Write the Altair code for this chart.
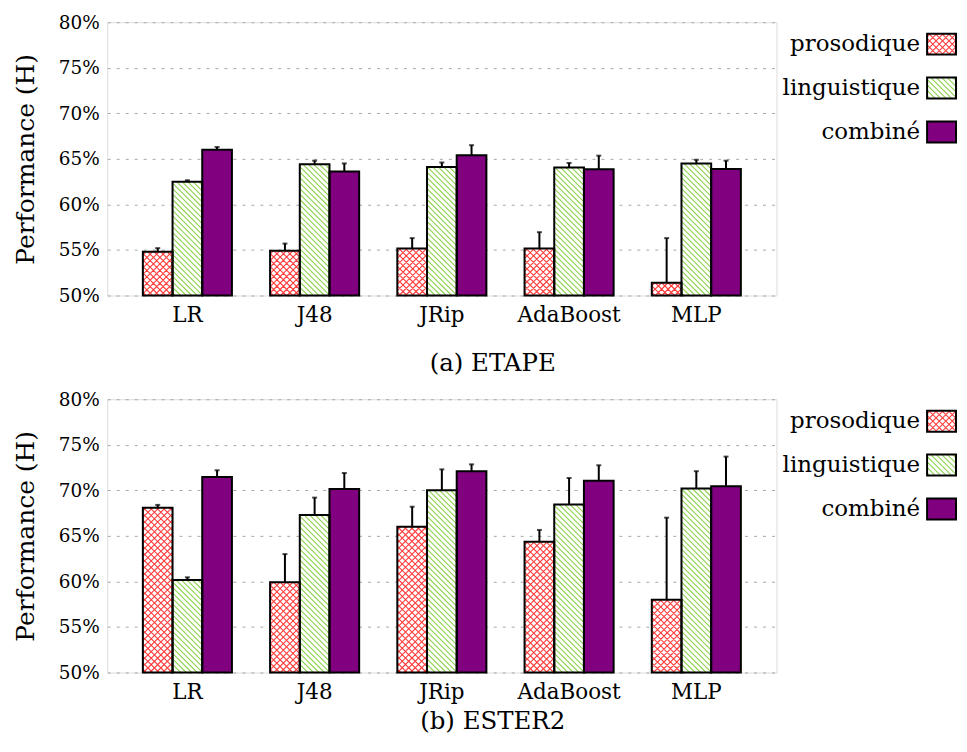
import altair as alt
import pandas as pd

models = ["LR", "J48", "JRip", "AdaBoost", "MLP"]
series = ["prosodique", "linguistique", "combiné"]

etape_pros = [54.8, 54.9, 55.15, 55.15, 51.4]
etape_pros_err = [0.4, 0.8, 1.15, 1.8, 4.9]
etape_ling = [62.5, 64.4, 64.1, 64.05, 64.5]
etape_ling_err = [0.15, 0.4, 0.5, 0.5, 0.4]
etape_comb = [66.0, 63.6, 65.4, 63.85, 63.9]
etape_comb_err = [0.3, 0.9, 1.1, 1.5, 0.9]

ester_pros = [68.1, 59.9, 66.0, 64.35, 58.0]
ester_pros_err = [0.3, 3.1, 2.2, 1.3, 9.0]
ester_ling = [60.15, 67.3, 70.0, 68.45, 70.2]
ester_ling_err = [0.3, 1.9, 2.3, 2.9, 1.9]
ester_comb = [71.45, 70.15, 72.1, 71.05, 70.45]
ester_comb_err = [0.75, 1.75, 0.75, 1.7, 3.25]

y_ticks = [50, 55, 60, 65, 70, 75, 80]

FONT = "DejaVu Serif"
W, H = 671, 274
YMIN, YMAX = 50, 80
P_IN, P_OUT = 0.3, 0.28
BAR_W = W / (len(models) - P_IN + 2 * P_OUT) * (1 - P_IN) / 3
PX = H / (YMAX - YMIN)  # pixels per percentage point
PURPLE = "#800080"
RED = "#ff3c3c"
GREEN = "#8fd14f"
S_RED, S_GREEN, LW = 6.5, 5.5, 1.1
LEG_X0, LEG_X1 = 822, 851
LEG_W = LEG_X1 - LEG_X0


def hatch_path(w, h, spacing, dirs, cy=0.0):
    """Diagonal hatch lines clipped to a w x h box centred horizontally.
    The box spans y in [cy - h, cy] (SVG y axis pointing down)."""
    segs = []
    x_lo, x_hi = -w / 2.0, w / 2.0
    y_top, y_bot = cy - h, cy
    if "back" in dirs:  # x - y = c  (top-left to bottom-right)
        c = x_lo - y_bot + spacing / 2.0
        while c < x_hi - y_top:
            a = max(x_lo, c + y_top)
            b = min(x_hi, c + y_bot)
            if b - a > 0.05:
                segs.append("M%.2f,%.2fL%.2f,%.2f" % (a, a - c, b, b - c))
            c += spacing
    if "fwd" in dirs:  # x + y = c  (bottom-left to top-right)
        c = x_lo + y_top + spacing / 2.0
        while c < x_hi + y_bot:
            a = max(x_lo, c - y_bot)
            b = min(x_hi, c - y_top)
            if b - a > 0.05:
                segs.append("M%.2f,%.2fL%.2f,%.2f" % (a, c - a, b, c - b))
            c += spacing
    return "".join(segs) if segs else "M0,0"


def make_df(p, pe, l, le, c, ce):
    rows = []
    for i, m in enumerate(models):
        for s, v, e in ((series[0], p[i], pe[i]), (series[1], l[i], le[i]), (series[2], c[i], ce[i])):
            if s == series[0]:
                hp = hatch_path(BAR_W, (v - YMIN) * PX, S_RED, ("back", "fwd"))
            elif s == series[1]:
                hp = hatch_path(BAR_W, (v - YMIN) * PX, S_GREEN, ("back",))
            else:
                hp = "M0,0"
            rows.append({"model": m, "series": s, "value": v, "err": e, "top": v + e,
                         "base": YMIN, "hatch": hp})
    return pd.DataFrame(rows)


def panel(df, caption, cap_offset):
    base = alt.Chart(df)
    x = alt.X("model:N", sort=models, title=None,
              scale=alt.Scale(domain=models, paddingInner=P_IN, paddingOuter=P_OUT),
              axis=alt.Axis(labelAngle=0, ticks=False, domain=False, labelFontSize=21.5,
                            labelPadding=9.5, labelColor="black", labelFont=FONT))
    xo = alt.XOffset("series:N", sort=series, scale=alt.Scale(domain=series))
    y = alt.Y("value:Q", scale=alt.Scale(domain=[YMIN, YMAX], nice=False, zero=False),
              axis=alt.Axis(values=y_ticks, labelExpr="datum.value + '%'", title="Performance (H)",
                            grid=True, gridDash=[3, 6], gridColor="#a8a8a8", gridWidth=1,
                            domain=False, ticks=False, labelFontSize=18.5, labelPadding=8,
                            labelColor="black", labelFont=FONT, titleFont=FONT,
                            titleFontSize=25, titleFontWeight="normal", titleColor="black",
                            titleAngle=270, titleX=-73.7, titleY=H / 2, titleAlign="center",
                            titleBaseline="alphabetic"))
    y2 = alt.Y2("base:Q")

    white = base.transform_filter(alt.datum.series != series[2]).mark_bar(
        fill="white", strokeWidth=0).encode(x=x, xOffset=xo, y=y, y2=y2)
    hatch_p = base.transform_filter(alt.datum.series == series[0]).mark_point(
        filled=False, opacity=1, stroke=RED, strokeWidth=LW).encode(
        x=x, xOffset=xo, y="base:Q", shape=alt.Shape("hatch:N", scale=None), size=alt.value(4))
    hatch_l = base.transform_filter(alt.datum.series == series[1]).mark_point(
        filled=False, opacity=1, stroke=GREEN, strokeWidth=LW).encode(
        x=x, xOffset=xo, y="base:Q", shape=alt.Shape("hatch:N", scale=None), size=alt.value(4))
    comb = base.transform_filter(alt.datum.series == series[2]).mark_bar(
        fill=PURPLE, stroke="black", strokeWidth=2).encode(x=x, xOffset=xo, y=y, y2=y2)
    outline = base.transform_filter(alt.datum.series != series[2]).mark_bar(
        fill="transparent", stroke="black", strokeWidth=2).encode(x=x, xOffset=xo, y=y, y2=y2)
    err = base.mark_rule(color="black", strokeWidth=2).encode(
        x=x, xOffset=xo, y="value:Q", y2="top:Q")
    cap = base.mark_tick(color="black", thickness=2, size=5).encode(
        x=x, xOffset=xo, y="top:Q")
    bars = alt.layer(white, hatch_p, hatch_l, comb, outline, err, cap)

    # legend: labels to the left of the pattern boxes
    leg_df = pd.DataFrame({
        "series": series,
        "hatch": [hatch_path(LEG_W, 21, S_RED, ("back", "fwd"), 10.5),
                  hatch_path(LEG_W, 21, S_GREEN, ("back",), 10.5),
                  "M0,0"],
    })
    ly = alt.Y("series:N", sort=series, axis=None,
               scale=alt.Scale(type="band", domain=series, range=[11.5, 120.5],
                               paddingInner=0.523, paddingOuter=0))
    lbase = alt.Chart(leg_df)
    ltext = lbase.mark_text(align="right", baseline="middle", fontSize=23, font=FONT,
                            color="black").encode(x=alt.value(LEG_X0 - 7), y=ly, text="series:N")
    lx = dict(x=alt.value(LEG_X0), x2=alt.value(LEG_X1))
    lbox = lbase.mark_rect(strokeWidth=0).encode(
        y=ly, fill=alt.Fill("series:N", sort=series, legend=None,
                            scale=alt.Scale(domain=series, range=["white", "white", PURPLE])), **lx)
    lcx = alt.value((LEG_X0 + LEG_X1) / 2.0)
    lh_p = lbase.transform_filter(alt.datum.series == series[0]).mark_point(
        filled=False, opacity=1, stroke=RED, strokeWidth=LW).encode(
        x=lcx, y=ly, shape=alt.Shape("hatch:N", scale=None), size=alt.value(4))
    lh_l = lbase.transform_filter(alt.datum.series == series[1]).mark_point(
        filled=False, opacity=1, stroke=GREEN, strokeWidth=LW).encode(
        x=lcx, y=ly, shape=alt.Shape("hatch:N", scale=None), size=alt.value(4))
    lout = lbase.mark_rect(fill="transparent", stroke="black", strokeWidth=2).encode(y=ly, **lx)
    legend = alt.layer(ltext, lbox, lh_p, lh_l, lout)

    return alt.layer(bars, legend).resolve_scale(y="independent").properties(
        width=W, height=H,
        title=alt.TitleParams(caption, orient="bottom", anchor="middle", fontSize=24.5,
                              font=FONT, fontWeight="normal", color="black",
                              offset=cap_offset, dx=51),
    )


df_a = make_df(etape_pros, etape_pros_err, etape_ling, etape_ling_err, etape_comb, etape_comb_err)
df_b = make_df(ester_pros, ester_pros_err, ester_ling, ester_ling_err, ester_comb, ester_comb_err)

chart = alt.vconcat(
    panel(df_a, "(a) ETAPE", 26),
    panel(df_b, "(b) ESTER2", 7),
    spacing=13,
).properties(padding={"top": 3.3, "left": 4.5, "right": 0, "bottom": 0}).configure_view(
    stroke="black", strokeWidth=1.5
).configure(font=FONT)

chart.save("out.html", embed_options={"renderer": "svg", "actions": False})
